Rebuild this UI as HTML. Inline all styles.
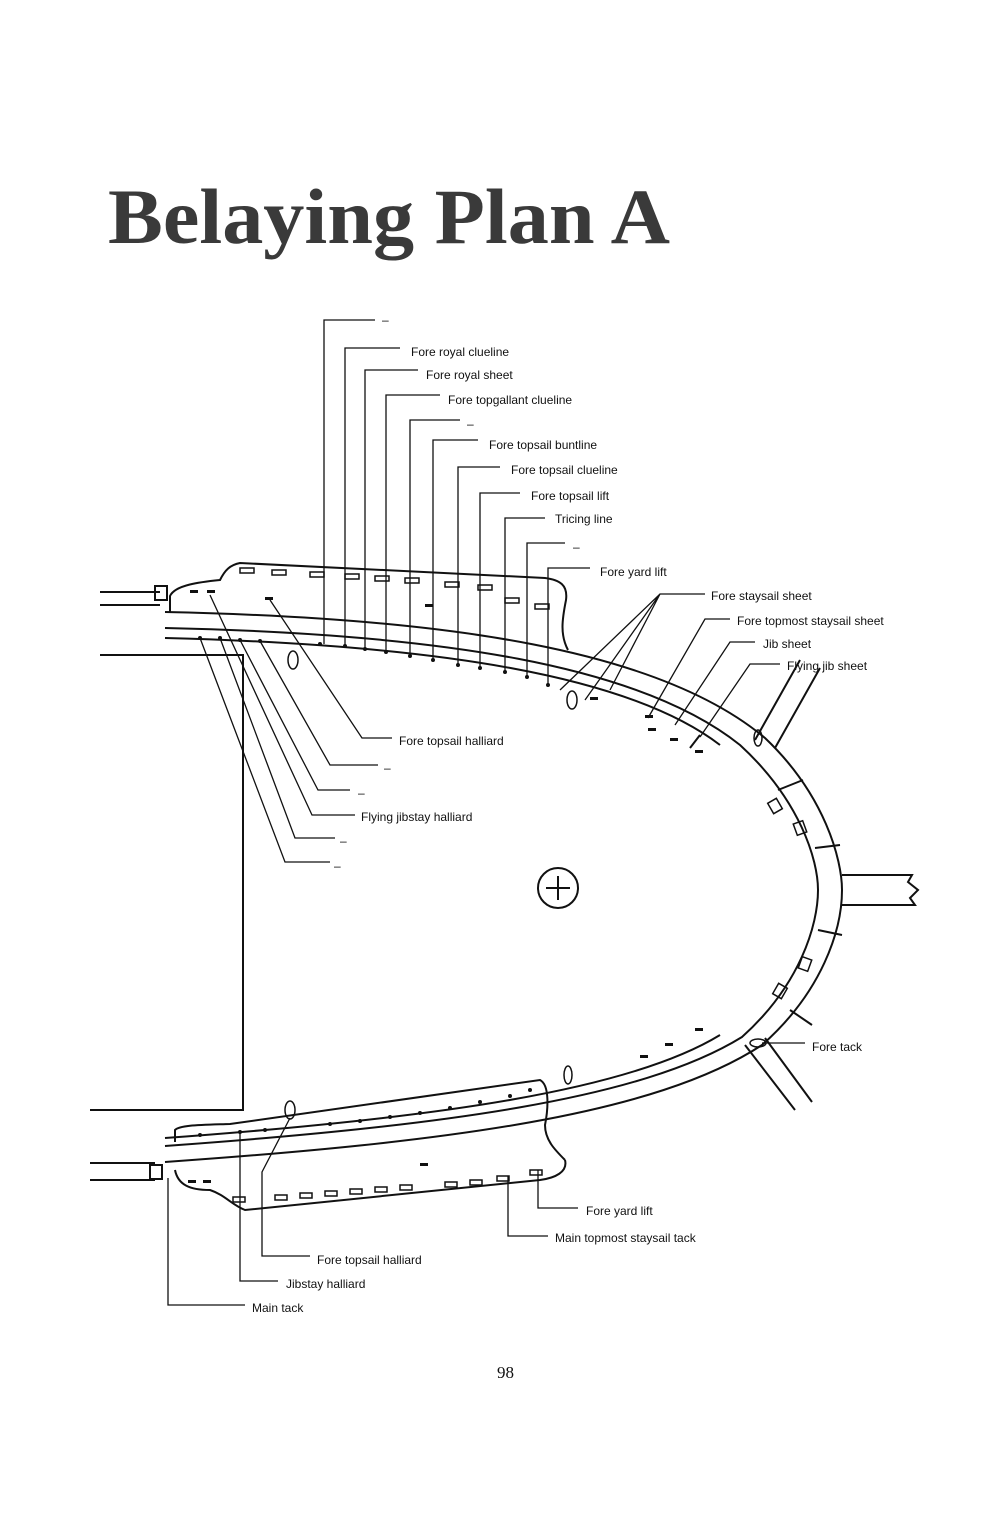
<!DOCTYPE html>
<html><head><meta charset="utf-8">
<style>
html,body{margin:0;padding:0;background:#fff;}
svg{display:block}
.t{font-family:"Liberation Sans",sans-serif;font-size:12px;fill:#111}
</style></head><body>
<svg width="1000" height="1534" viewBox="0 0 1000 1534" xmlns="http://www.w3.org/2000/svg">
<rect width="1000" height="1534" fill="#fff"/>
<text x="108" y="243" font-family="Liberation Serif,serif" font-size="78" font-weight="bold" fill="#3a3a3a" textLength="562" lengthAdjust="spacingAndGlyphs">Belaying Plan A</text>
<text x="497" y="1378" font-family="Liberation Serif,serif" font-size="17" fill="#111">98</text>

<g fill="none" stroke="#111" stroke-width="2">
<path d="M165,612 C450,618 660,650 765,738 C825,795 842,860 842,890 C842,930 822,992 762,1045 C655,1115 450,1142 165,1162"/>
<path d="M165,628 C440,634 640,665 740,745 C800,800 818,860 818,890 C818,925 800,985 742,1037 C640,1100 440,1126 165,1146"/>
<path d="M165,638 C440,645 630,676 720,745"/>
<path d="M165,1138 C440,1118 630,1090 720,1035"/>
<path d="M170,612 L170,596 C175,585 200,582 220,580 C225,570 230,565 240,563 L545,578 C560,580 568,585 566,600 C562,620 560,635 568,650"/>
<path d="M175,1142 L175,1130 C180,1125 200,1125 230,1124 L540,1080 C550,1085 548,1110 545,1125 C545,1140 555,1150 565,1160"/>
<path d="M175,1170 C178,1185 190,1190 210,1190 C225,1195 232,1205 245,1210 L540,1180 C555,1178 568,1172 565,1160"/>
<path d="M100,655 L243,655 L243,1110 L90,1110"/>
<path d="M100,592 L160,592 M100,605 L160,605 M90,1163 L155,1163 M90,1180 L155,1180"/>
<rect x="155" y="586" width="12" height="14"/>
<rect x="150" y="1165" width="12" height="14"/>
<path d="M755,740 L800,660 M775,748 L820,668"/>
<path d="M842,875 L912,875 L908,882 L918,890 L910,898 L915,905 L842,905"/>
<path d="M745,1045 L795,1110 M765,1038 L812,1102"/>
<circle cx="558" cy="888" r="20"/>
<path d="M546,888 L570,888 M558,876 L558,900"/>
<path d="M700,735 L690,748 M778,790 L803,780 M815,848 L840,845 M818,930 L842,935 M790,1010 L812,1025"/>
</g>

<g fill="none" stroke="#111" stroke-width="1.5">
<rect x="240" y="568" width="14" height="5"/><rect x="272" y="570" width="14" height="5"/><rect x="310" y="572" width="14" height="5"/>
<rect x="345" y="574" width="14" height="5"/><rect x="375" y="576" width="14" height="5"/><rect x="405" y="578" width="14" height="5"/>
<rect x="445" y="582" width="14" height="5"/><rect x="478" y="585" width="14" height="5"/><rect x="505" y="598" width="14" height="5"/><rect x="535" y="604" width="14" height="5"/>
</g>
<g fill="#111">
<rect x="190" y="590" width="8" height="3"/><rect x="207" y="590" width="8" height="3"/><rect x="265" y="597" width="8" height="3"/><rect x="425" y="604" width="8" height="3"/>
<circle cx="200" cy="638" r="2"/><circle cx="220" cy="638" r="2"/><circle cx="240" cy="640" r="2"/><circle cx="260" cy="641" r="2"/>
<circle cx="320" cy="644" r="2"/><circle cx="345" cy="646" r="2"/><circle cx="365" cy="649" r="2"/><circle cx="386" cy="652" r="2"/><circle cx="410" cy="656" r="2"/><circle cx="433" cy="660" r="2"/><circle cx="458" cy="665" r="2"/><circle cx="480" cy="668" r="2"/><circle cx="505" cy="672" r="2"/><circle cx="527" cy="677" r="2"/><circle cx="548" cy="685" r="2"/>
<rect x="590" y="697" width="8" height="3"/><rect x="645" y="715" width="8" height="3"/><rect x="648" y="728" width="8" height="3"/><rect x="670" y="738" width="8" height="3"/><rect x="695" y="750" width="8" height="3"/>
<circle cx="200" cy="1135" r="2"/><circle cx="240" cy="1132" r="2"/><circle cx="265" cy="1130" r="2"/><circle cx="330" cy="1124" r="2"/><circle cx="360" cy="1121" r="2"/><circle cx="390" cy="1117" r="2"/><circle cx="420" cy="1113" r="2"/><circle cx="450" cy="1108" r="2"/><circle cx="480" cy="1102" r="2"/><circle cx="510" cy="1096" r="2"/><circle cx="530" cy="1090" r="2"/>
<rect x="188" y="1180" width="8" height="3"/><rect x="203" y="1180" width="8" height="3"/><rect x="420" y="1163" width="8" height="3"/>
<rect x="640" y="1055" width="8" height="3"/><rect x="665" y="1043" width="8" height="3"/><rect x="695" y="1028" width="8" height="3"/>
</g>
<g fill="none" stroke="#111" stroke-width="1.5">
<rect x="233" y="1197" width="12" height="5"/><rect x="275" y="1195" width="12" height="5"/><rect x="300" y="1193" width="12" height="5"/><rect x="325" y="1191" width="12" height="5"/><rect x="350" y="1189" width="12" height="5"/><rect x="375" y="1187" width="12" height="5"/><rect x="400" y="1185" width="12" height="5"/><rect x="445" y="1182" width="12" height="5"/><rect x="470" y="1180" width="12" height="5"/><rect x="497" y="1176" width="12" height="5"/><rect x="530" y="1170" width="12" height="5"/>
<ellipse cx="293" cy="660" rx="5" ry="9"/><ellipse cx="572" cy="700" rx="5" ry="9"/><ellipse cx="758" cy="738" rx="4" ry="8"/>
<ellipse cx="568" cy="1075" rx="4" ry="9"/><ellipse cx="290" cy="1110" rx="5" ry="9"/><ellipse cx="758" cy="1043" rx="8" ry="4"/>
<rect x="770" y="800" width="10" height="12" transform="rotate(-30 775 806)"/><rect x="795" y="822" width="10" height="12" transform="rotate(-20 800 828)"/>
<rect x="800" y="958" width="10" height="12" transform="rotate(20 805 964)"/><rect x="775" y="985" width="10" height="12" transform="rotate(30 780 991)"/>
</g>

<g fill="none" stroke="#111" stroke-width="1.3">
<path d="M324,644 L324,320 L375,320"/>
<path d="M345,646 L345,348 L400,348"/>
<path d="M365,649 L365,370 L418,370"/>
<path d="M386,652 L386,395 L440,395"/>
<path d="M410,656 L410,420 L460,420"/>
<path d="M433,660 L433,440 L478,440"/>
<path d="M458,665 L458,467 L500,467"/>
<path d="M480,668 L480,493 L520,493"/>
<path d="M505,672 L505,518 L545,518"/>
<path d="M527,677 L527,543 L565,543"/>
<path d="M548,685 L548,568 L590,568"/>
<path d="M705,594 L660,594 L560,690 M660,594 L585,700 M660,594 L610,690"/>
<path d="M730,619 L705,619 L648,718"/>
<path d="M755,642 L730,642 L675,725"/>
<path d="M780,664 L750,664 L700,737"/>
<path d="M270,600 L362,738 L392,738"/>
<path d="M260,641 L330,765 L378,765"/>
<path d="M240,640 L318,790 L350,790"/>
<path d="M210,595 L312,815 L355,815"/>
<path d="M220,638 L295,838 L335,838"/>
<path d="M200,638 L285,862 L330,862"/>
<path d="M538,1170 L538,1208 L578,1208"/>
<path d="M508,1176 L508,1236 L548,1236"/>
<path d="M290,1118 L262,1172 L262,1256 L310,1256"/>
<path d="M240,1132 L240,1281 L278,1281"/>
<path d="M168,1178 L168,1305 L245,1305"/>
<path d="M762,1043 L805,1043"/>
</g>

<g class="t">
<text x="382" y="324">–</text>
<text x="411" y="356">Fore royal clueline</text>
<text x="426" y="379">Fore royal sheet</text>
<text x="448" y="404">Fore topgallant clueline</text>
<text x="467" y="428">–</text>
<text x="489" y="449">Fore topsail buntline</text>
<text x="511" y="474">Fore topsail clueline</text>
<text x="531" y="500">Fore topsail lift</text>
<text x="555" y="523">Tricing line</text>
<text x="573" y="551">–</text>
<text x="600" y="576">Fore yard lift</text>
<text x="711" y="600">Fore staysail sheet</text>
<text x="737" y="625">Fore topmost staysail sheet</text>
<text x="763" y="648">Jib sheet</text>
<text x="787" y="670">Flying jib sheet</text>
<text x="399" y="745">Fore topsail halliard</text>
<text x="384" y="772">–</text>
<text x="358" y="797">–</text>
<text x="361" y="821">Flying jibstay halliard</text>
<text x="340" y="845">–</text>
<text x="334" y="870">–</text>
<text x="812" y="1051">Fore tack</text>
<text x="586" y="1215">Fore yard lift</text>
<text x="555" y="1242">Main topmost staysail tack</text>
<text x="317" y="1264">Fore topsail halliard</text>
<text x="286" y="1288">Jibstay halliard</text>
<text x="252" y="1312">Main tack</text>
</g>
</svg>
</body></html>
